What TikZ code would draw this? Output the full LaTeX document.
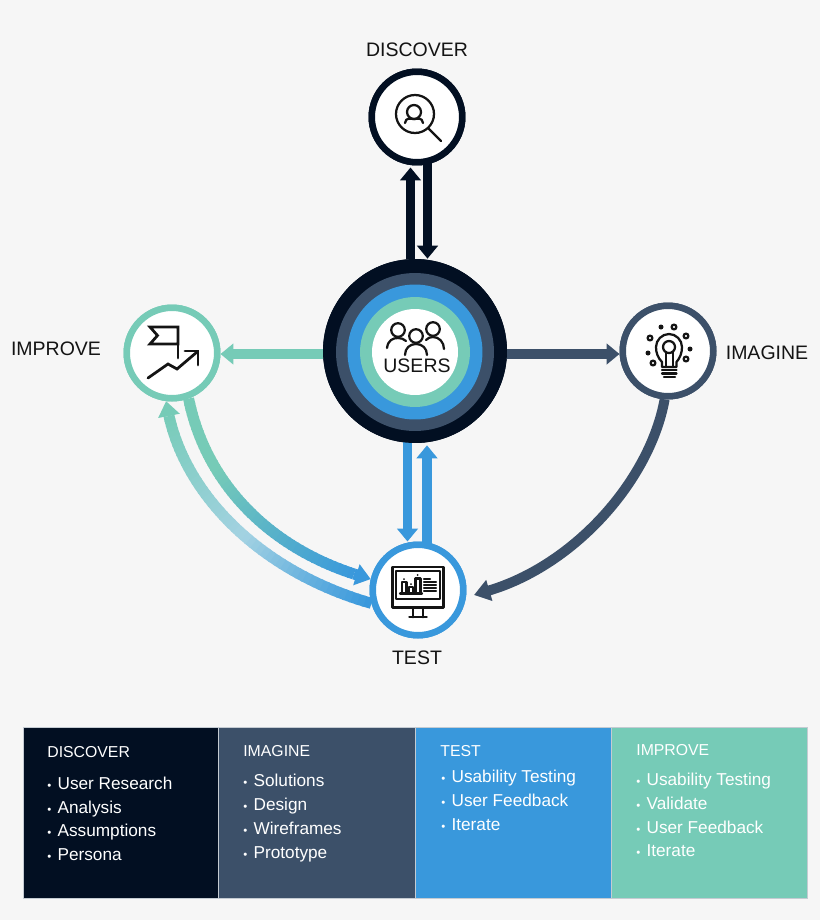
\documentclass[tikz,border=0pt]{standalone}
\usepackage{fontspec}
\setmainfont{Liberation Sans}
\usetikzlibrary{arrows.meta}

\definecolor{pagebg}{HTML}{F6F6F6}
\definecolor{ink}{HTML}{020F22}
\definecolor{slate}{HTML}{3C5069}
\definecolor{sky}{HTML}{3998DC}
\definecolor{mint}{HTML}{76CBB7}
\definecolor{haze}{HTML}{A3D2E2}
\definecolor{pen}{HTML}{141414}

\tikzset{
  stage/.style={circle,fill=white,line width=0.13cm,minimum size=1.81cm,inner sep=0pt},
  ring/.style={circle,inner sep=0pt,minimum size=#1},
  flow/.style={line width=0.19cm,-{Triangle[width=0.41cm,length=0.26cm]}},
  sweep/.style={line width=0.22cm},
  sweeptip/.style={line width=0.22cm,-{Triangle[width=0.42cm,length=0.3cm]}},
  stagename/.style={text=pen,inner sep=0pt,font=\fontsize{11.1}{13}\selectfont},
  panelline/.style={draw=white!70!slate,line width=0.02cm},
  panelhead/.style={anchor=base west,text=white,inner sep=0pt,font=\fontsize{9}{11}\selectfont},
  panelitem/.style={anchor=base west,text=white,inner sep=0pt,font=\fontsize{9.8}{12}\selectfont},
  glyph/.style={draw=pen,line width=0.045cm,line cap=round,line join=round},
  thick glyph/.style={draw=pen,line width=0.055cm,line cap=round,line join=miter}
}
\newcommand{\dotitem}{{\fontsize{6.5}{6}\selectfont\textbullet}\hspace{0.125cm}}

\begin{document}
\begin{tikzpicture}[x=0.02cm,y=-0.02cm]
\fill[pagebg] (0,0) rectangle (820,920);

% stages
\node[stage,draw=ink] (discover) at (417,117) {};
\node[stage,draw=mint] (improve) at (172,353) {};
\node[stage,draw=slate] (imagine) at (668,351) {};
\node[stage,draw=sky] (test) at (418,590) {};
\node[ring=3.68cm,fill=ink] (users) at (415,351) {};

% straight arrows
\draw[flow,ink] ([shift={(-4.5,0)}]users.north) -- ([shift={(-6.5,2)}]discover.south);
\draw[flow,ink] ([shift={(10.5,-2)}]discover.south) -- ([shift={(12.5,0)}]users.north);
\draw[flow,mint] ([shift={(0,3)}]users.west) -- ([shift={(0,1)}]improve.east);
\draw[flow,slate] ([shift={(0,3)}]users.east) -- ([shift={(0,3)}]imagine.west);
\draw[flow,sky] ([shift={(-7.5,-2)}]users.south) -- ([shift={(-10.5,0)}]test.north);
\draw[flow,sky] ([shift={(9,2)}]test.north) -- ([shift={(12,2)}]users.south);

% curved arrows
\coordinate (testport) at (474,595);
\draw[line width=0.2cm,slate,-{Triangle[width=0.42cm,length=0.32cm]}] (imagine.266) .. controls (650,480) and (575,565) .. (testport);

\coordinate (mintend) at (354,574);
\foreach \n in {0,...,49}{
  \pgfmathsetmacro\tA{\n/50}
  \pgfmathsetmacro\tB{min((\n+1.3)/50,1)}
  \pgfmathsetmacro\mix{max(0,(\tA-0.3)/0.7)*100}
  \path (improve.-70) .. controls (205,480) and (265,545) .. (mintend)
    coordinate[pos=\tA] (segA) coordinate[pos=\tB] (segB);
  \draw[sweep,color=sky!\mix!mint] (segA) -- (segB);
}
\draw[sweeptip,sky] (mintend) -- (test.167);

\coordinate (hazeend) at (169,416);
\foreach \n in {0,...,49}{
  \pgfmathsetmacro\tA{\n/50}
  \pgfmathsetmacro\tB{min((\n+1.3)/50,1)}
  \pgfmathsetmacro\mixA{max(0,100*(1-\tA/0.45))}
  \pgfmathsetmacro\mixB{min(100,100*(1-\tA)/0.55)}
  \path (test.196) .. controls (262,572) and (187,497) .. (hazeend)
    coordinate[pos=\tA] (segA) coordinate[pos=\tB] (segB);
  \draw[sweep,color=sky!\mixA!haze!\mixB!mint] (segA) -- (segB);
}
\draw[sweeptip,mint] (hazeend) -- (improve.263);

% stages again, over the arrow ends
\node[stage,draw=ink] at (discover) {};
\node[stage,draw=mint] at (improve) {};
\node[stage,draw=slate] at (imagine) {};
\node[stage,draw=sky] at (test) {};

% rings
\node[ring=3.68cm,fill=ink] (ringink) at (users) {};
\node[ring=3.16cm,fill=slate] (ringslate) at (415,352) {};
\node[ring=2.70cm,fill=sky] (ringsky) at (415,352) {};
\node[ring=2.20cm,fill=mint] (ringmint) at (415,352) {};
\node[ring=1.72cm,fill=white] (ringwhite) at (415,352) {};

% stage names
\node[stagename] (discovername) at (417,50) {DISCOVER};
\node[stagename] (improvename) at (56,349) {IMPROVE};
\node[stagename] (imaginename) at (767,353) {IMAGINE};
\node[stagename] (testname) at (417,658) {TEST};
\node[stagename] (usersname) at (417,366) {USERS};

% users icon
\draw[glyph] (398,330) circle (6.8);
\draw[glyph] (433,329) circle (6.8);
\draw[glyph] (416,336) circle (6.8);
\draw[glyph] (387,348) .. controls (388,340) and (393,338) .. (398,338) .. controls (401,338) and (404,339) .. (406,341);
\draw[glyph] (426,340) .. controls (428,338) and (430,337) .. (433,337) .. controls (439,337) and (444,342) .. (444,349);
\draw[glyph] (405,355) .. controls (405,348) and (410,344) .. (416,344) .. controls (422,344) and (427,348) .. (427,355);

% discover icon
\draw[glyph] (415,114) circle (19);
\draw[glyph] (414,112) circle (7);
\draw[glyph] (405,123) .. controls (406,117) and (410,119) .. (414,119) .. controls (418,119) and (422,117) .. (423,123);
\draw[glyph] (428,128) -- (441,141);

% improve icon
\draw[thick glyph] (150,327) -- (178,327) -- (178,344) -- (150,344) -- (157.5,335.5) -- cycle;
\draw[thick glyph] (178,344) -- (178,358);
\draw[thick glyph] (148,378) -- (168,364) -- (177,369) -- (197,352);
\draw[thick glyph] (185,351) -- (198,351) -- (198,365);

% imagine icon
\draw[glyph] (662,367) -- (662,362) .. controls (658,358) and (656,353) .. (656,347) .. controls (656,340) and (662,334) .. (669,334) .. controls (676,334) and (682,340) .. (682,347) .. controls (682,353) and (680,358) .. (676.5,362) -- (676.5,367) -- cycle;
\draw[glyph] (669,347) circle (6);
\draw[glyph] (665.7,352) -- (665.7,367);
\draw[glyph] (672.7,352) -- (672.7,367);
\draw[glyph] (662,370) -- (676.5,370);
\draw[glyph] (662,373.5) -- (676.5,373.5);
\draw[glyph] (664,377) -- (675,377);
\foreach \px/\py in {674/327,650/338,686/336,653/363,686/359}
  \draw[glyph] (\px,\py) circle (2.4);
\foreach \px/\py in {661/327,648/353,690/349}
  \fill[pen] (\px,\py) circle (2.5);

% test icon
\draw[glyph] (392.5,567) rectangle (443.5,607.5);
\draw[glyph] (396,571) rectangle (440,599);
\draw[glyph] (412.7,607.5) -- (412.7,617.3);
\draw[glyph] (422.7,607.5) -- (422.7,617.3);
\draw[glyph] (409.3,617.3) -- (426.7,617.3);
\draw[glyph] (400,593.5) -- (422,593.5);
\draw[glyph] (402,593.5) rectangle (406.5,582);
\draw[glyph] (409.3,593.5) rectangle (413.3,587);
\draw[glyph] (415.5,593.5) rectangle (420.5,578.5);
\fill[pen] (404,579) circle (1);
\fill[pen] (411,584) circle (1);
\fill[pen] (417.7,575) circle (1);
\draw[glyph] (424,579.3) -- (430,579.3);
\draw[glyph] (424,582.3) -- (436,582.3);
\draw[glyph] (424,585.3) -- (436,585.3);
\draw[glyph] (424,588.3) -- (436,588.3);
\draw[glyph] (424,591.3) -- (436,591.3);

% panels
\draw[panelline,fill=ink] (23,727) rectangle (218.5,898);
\draw[panelline,fill=slate] (218.5,727) rectangle (415,898);
\draw[panelline,fill=sky] (415,727) rectangle (611,898);
\draw[panelline,fill=mint] (611,727) rectangle (807,898);

\node[panelhead] (discoverhead) at (47,757.7) {DISCOVER};
\node[panelitem] (discoverone) at (47,789) {\dotitem User Research};
\node[panelitem] (discovertwo) at (47,813) {\dotitem Analysis};
\node[panelitem] (discoverthree) at (47,836.5) {\dotitem Assumptions};
\node[panelitem] (discoverfour) at (47,860) {\dotitem Persona};

\node[panelhead] (imaginehead) at (243,756.7) {IMAGINE};
\node[panelitem] (imagineone) at (243,786.7) {\dotitem Solutions};
\node[panelitem] (imaginetwo) at (243,810) {\dotitem Design};
\node[panelitem] (imaginethree) at (243,834) {\dotitem Wireframes};
\node[panelitem] (imaginefour) at (243,858) {\dotitem Prototype};

\node[panelhead] (testhead) at (440,756.7) {TEST};
\node[panelitem] (testone) at (441,782.7) {\dotitem Usability Testing};
\node[panelitem] (testtwo) at (441,806.7) {\dotitem User Feedback};
\node[panelitem] (testthree) at (441,830.3) {\dotitem Iterate};

\node[panelhead] (improvehead) at (636,755.7) {IMPROVE};
\node[panelitem] (improveone) at (636,785.3) {\dotitem Usability Testing};
\node[panelitem] (improvetwo) at (636,809.3) {\dotitem Validate};
\node[panelitem] (improvethree) at (636,833.3) {\dotitem User Feedback};
\node[panelitem] (improvefour) at (636,856.7) {\dotitem Iterate};
\end{tikzpicture}
\end{document}
